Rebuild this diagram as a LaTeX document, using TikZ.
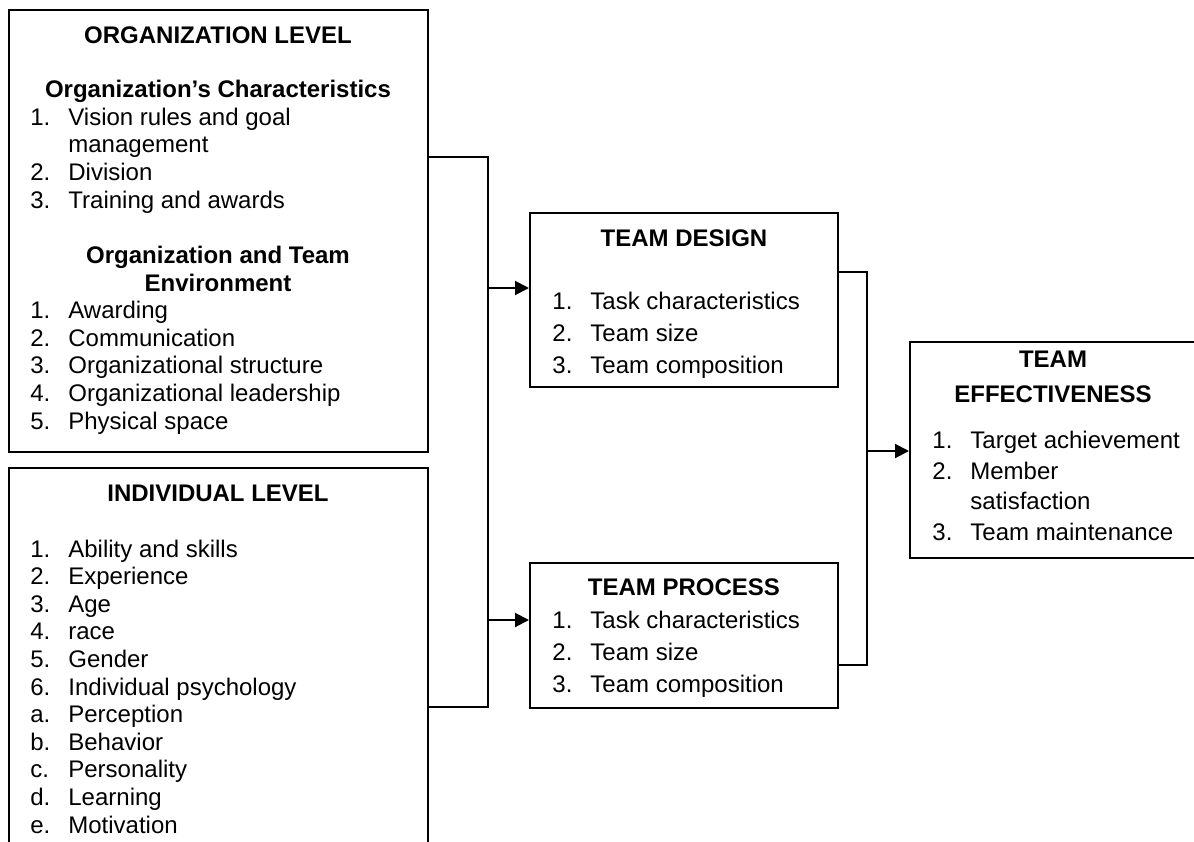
\documentclass[tikz,border=0pt]{standalone}
\usepackage{fontspec}
\setmainfont{Liberation Sans}
\usetikzlibrary{arrows.meta}

\newcommand{\lbl}[1]{\makebox[19pt][l]{#1}}

\tikzset{
  box/.style={draw, line width=1pt, rectangle, inner sep=0pt},
  head/.style={font=\bfseries\fontsize{12}{13.8}\selectfont, anchor=base, align=center, inner sep=0pt},
  items/.style={font=\fontsize{12}{13.8}\selectfont, anchor=base west, align=left, inner sep=0pt},
  conn/.style={line width=1pt},
  arr/.style={line width=1pt, -{Triangle[length=7pt,width=7pt]}}
}

\begin{document}
\begin{tikzpicture}[x=0.5pt, y=-0.5pt]

\path [use as bounding box] (0,0) rectangle (1194,841);
\clip (0,0) rectangle (1194,841);

% boxes
\node [box, minimum width=209.5pt, minimum height=221pt] (orgbox) at (218.5,231) {};
\node [box, minimum width=209.5pt, minimum height=216pt] (indbox) at (218.5,684) {};
\node [box, minimum width=154pt, minimum height=87pt] (designbox) at (684,300) {};
\node [box, minimum width=154pt, minimum height=72.5pt] (processbox) at (684,635.5) {};
\node [box, minimum width=145pt, minimum height=108pt] (effbox) at (1055,450) {};

% organization level (multi-line texts sit on the baseline of their last line)
\node [head] (orghead) at (218,43) {ORGANIZATION LEVEL};
\node [head] (orgsub1) at (218,97) {Organization’s Characteristics};
\node [items] (orglist1) at (30,208) {\lbl{1.}Vision rules and goal\\
\lbl{}management\\
\lbl{2.}Division\\
\lbl{3.}Training and awards};
\node [head] (orgsub2) at (218,291) {Organization and Team\\Environment};
\node [items] (orglist2) at (30,429) {\lbl{1.}Awarding\\
\lbl{2.}Communication\\
\lbl{3.}Organizational structure\\
\lbl{4.}Organizational leadership\\
\lbl{5.}Physical space};

% individual level
\node [head] (indhead) at (218,501) {INDIVIDUAL LEVEL};
\node [items] (indlist) at (30,833) {\lbl{1.}Ability and skills\\
\lbl{2.}Experience\\
\lbl{3.}Age\\
\lbl{4.}race\\
\lbl{5.}Gender\\
\lbl{6.}Individual psychology\\
\lbl{a.}Perception\\
\lbl{b.}Behavior\\
\lbl{c.}Personality\\
\lbl{d.}Learning\\
\lbl{e.}Motivation};

% team design
\node [head] (designhead) at (684,246) {TEAM DESIGN};
\node [items, font=\fontsize{12}{16}\selectfont] (designlist) at (552,373) {\lbl{1.}Task characteristics\\
\lbl{2.}Team size\\
\lbl{3.}Team composition};

% team process
\node [head] (processhead) at (684,595) {TEAM PROCESS};
\node [items, font=\fontsize{12}{16}\selectfont] (processlist) at (552,692) {\lbl{1.}Task characteristics\\
\lbl{2.}Team size\\
\lbl{3.}Team composition};

% team effectiveness
\node [head, font=\bfseries\fontsize{12}{17.5}\selectfont] (effhead) at (1053,402) {TEAM\\EFFECTIVENESS};
\node [items, font=\fontsize{12}{15.2}\selectfont] (efflist) at (932,540) {\lbl{1.}Target achievement\\
\lbl{2.}Member\\
\lbl{}satisfaction\\
\lbl{3.}Team maintenance};

% connectors
\coordinate (ltop) at (488,157);
\coordinate (lbot) at (488,707);
\coordinate (larr1) at (488,288);
\coordinate (larr2) at (488,620);
\coordinate (rtop) at (867,272);
\coordinate (rbot) at (867,665);
\coordinate (rarr) at (867,451);

\draw [conn] (orgbox.east |- ltop) -- (ltop) -- (lbot) -- (indbox.east |- lbot);
\draw [arr] (larr1) -- (designbox.west |- larr1);
\draw [arr] (larr2) -- (processbox.west |- larr2);

\draw [conn] (designbox.east |- rtop) -- (rtop) -- (rbot) -- (processbox.east |- rbot);
\draw [arr] (rarr) -- (effbox.west |- rarr);

\end{tikzpicture}
\end{document}
